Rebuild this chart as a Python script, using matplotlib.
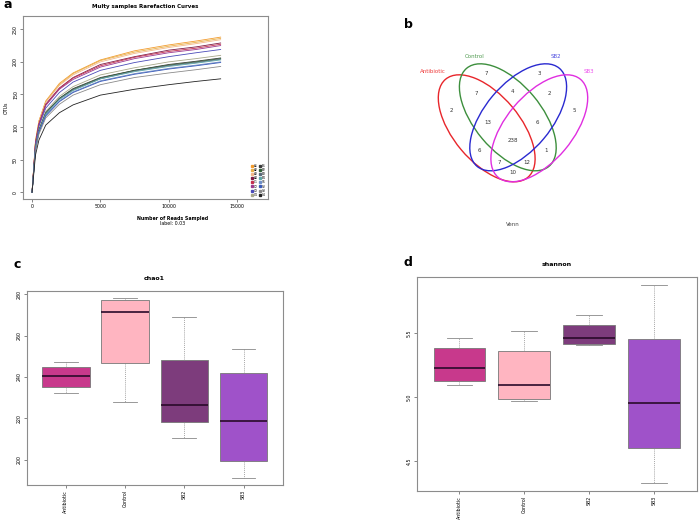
import matplotlib
matplotlib.use('Agg')
from matplotlib import pyplot as plt
from matplotlib.patches import Ellipse
from matplotlib.lines import Line2D

W, H = 699, 523

# ---- a: rarefaction curves ----
reads = [0, 250, 500, 1000, 2000, 3000, 5000, 7500, 10000, 12000, 13800]
otu_curves = [
    [0, 79, 109, 140, 167, 183, 203, 217, 226, 232, 238],
    [0, 78, 109, 139, 165, 182, 202, 215, 224, 230, 236],
    [0, 77, 108, 138, 164, 180, 200, 213, 222, 228, 234],
    [0, 76, 105, 135, 160, 176, 196, 208, 218, 223, 229],
    [0, 75, 104, 134, 159, 175, 194, 207, 216, 221, 227],
    [0, 74, 104, 133, 158, 173, 192, 205, 214, 219, 225],
    [0, 72, 101, 129, 153, 169, 187, 199, 208, 214, 219],
    [0, 69, 97, 124, 147, 162, 180, 191, 200, 205, 210],
    [0, 68, 95, 122, 144, 159, 176, 187, 196, 201, 206],
    [0, 68, 94, 121, 144, 158, 175, 187, 195, 200, 205],
    [0, 67, 94, 120, 143, 157, 174, 186, 194, 199, 204],
    [0, 67, 93, 120, 142, 156, 174, 185, 193, 198, 203],
    [0, 66, 92, 118, 140, 154, 171, 182, 190, 195, 200],
    [0, 66, 92, 117, 139, 153, 170, 181, 189, 194, 199],
    [0, 64, 89, 114, 135, 149, 165, 176, 183, 188, 193],
    [0, 57, 80, 103, 122, 134, 149, 158, 165, 170, 174],
]
sample_names = ['A1', 'A2', 'A3', 'A4', 'C1', 'C2', 'C3', 'C4',
                'B1', 'B2', 'B3', 'B4', 'S1', 'S2', 'S3', 'S4']
curve_colors = ['#f29b2e', '#e8b24a', '#f3b88a', '#7e1b45', '#c4304f', '#9b3a8f',
                '#4a4ab8', '#a8a88a', '#3a3a3a', '#2f5f35', '#5a6a7a', '#5fa8a8',
                '#7090c8', '#3a5ab8', '#8a8a8a', '#222222']

# ---- b: venn ----
set_names = ['Antibiotic', 'Control', 'SB2', 'SB3']
set_colors = ['#e8262b', '#3d8f3d', '#2a2ad0', '#e02ee0']
label_colors = ['#ee3a3a', '#4f9a4f', '#5050e0', '#ee50ee']
venn_regions = ['A', 'C', 'B', 'S', 'AC', 'CB', 'BS', 'ACB', 'CBS', 'ACBS',
                'AB', 'CS', 'ABS', 'ACS', 'AS']
venn_counts = [2, 7, 3, 5, 7, 4, 2, 13, 6, 238, 6, 1, 7, 12, 10]

# ---- c, d: boxplots ----
groups = ['Antibiotic', 'Control', 'SB2', 'SB3']
group_colors = ['#c8398c', '#ffb5c1', '#7d3c7c', '#9f52c9']
chao1_whislo = [232.1, 227.8, 210.4, 191.3]
chao1_q1 = [235.2, 246.9, 218.2, 199.4]
chao1_med = [240.5, 271.2, 226.7, 218.8]
chao1_q3 = [245.0, 277.3, 248.2, 241.9]
chao1_whishi = [247.2, 278.2, 269.1, 253.5]
shannon_whislo = [5.093, 4.967, 5.406, 4.325]
shannon_q1 = [5.124, 4.983, 5.416, 4.599]
shannon_med = [5.228, 5.093, 5.463, 4.954]
shannon_q3 = [5.383, 5.359, 5.570, 5.453]
shannon_whishi = [5.461, 5.523, 5.644, 5.879]

FS = 3.4
FRAME = '#8c8c8c'


def rect(x0, y0, x1, y1):
    return [x0 / W, 1 - y1 / H, (x1 - x0) / W, (y1 - y0) / H]


def style(ax):
    for s in ax.spines.values():
        s.set_color(FRAME)
        s.set_linewidth(0.8)
    ax.tick_params(length=2, width=0.5, color='#555555', labelsize=FS, pad=1.5)
    for t in ax.get_yticklabels():
        t.set_rotation(90)
        t.set_va('center')


fig = plt.figure(figsize=(W / 100, H / 100), dpi=100)

# panel a
ax = fig.add_axes(rect(23, 16, 268, 199))
for ys, c in zip(otu_curves, curve_colors):
    ax.plot(reads, ys, color=c, lw=0.6)
ax.set_xlim(-664, 17264)
ax.set_ylim(-10.4, 270.4)
ax.set_xticks([0, 5000, 10000, 15000])
ax.set_yticks([0, 50, 100, 150, 200, 250])
style(ax)
ax.set_ylabel('OTUs', fontsize=FS, labelpad=3)
ax.set_title('Multy samples Rarefaction Curves', fontsize=4, fontweight='bold', pad=6)
handles = [Line2D([], [], marker='s', ls='none', color=c, markersize=1.4) for c in curve_colors]
ax.legend(handles, sample_names, ncol=2, fontsize=2.2, frameon=False, loc='lower right',
          handlelength=0.6, handletextpad=0.3, columnspacing=0.6, labelspacing=0.05,
          borderpad=0.2)
fig.text(173 / W, 1 - 218.5 / H, 'Number of Reads Sampled', fontsize=FS, fontweight='bold',
         ha='center', va='center')
fig.text(173 / W, 1 - 223.5 / H, 'label: 0.03', fontsize=FS, ha='center', va='center')
fig.text(3 / W, 1 - 5 / H, 'a', fontsize=9, fontweight='bold', va='center')

# panel b
axv = fig.add_axes(rect(350, 0, 699, 250))
axv.set_xlim(350, 699)
axv.set_ylim(250, 0)
axv.axis('off')
ell_centers = [(486.7, 128.3), (507.8, 117.3), (518.2, 117.3), (539.3, 128.3)]
ell_angles = [50, 50, -50, -50]
for (cx, cy), ang, c in zip(ell_centers, ell_angles, set_colors):
    axv.add_patch(Ellipse((cx, cy), 128, 66.6, angle=ang, fill=False, ec=c, lw=1.0))
name_pos = [(432.7, 71.7), (474.3, 56.7), (556, 56.7), (589.3, 71.7)]
for (x, y), n, c in zip(name_pos, set_names, label_colors):
    axv.text(x, y, n, color=c, fontsize=4, ha='center', va='center')
count_pos = {'A': (451.7, 110), 'C': (486, 73.3), 'B': (539, 73.3), 'S': (574, 110),
             'AC': (476, 93.3), 'CB': (512.7, 91.7), 'BS': (549.3, 93.3),
             'ACB': (488.3, 122.3), 'CBS': (537.3, 122.3), 'ACBS': (512.7, 140.7),
             'AB': (479.3, 150), 'CS': (545.7, 150), 'ABS': (499, 162.3),
             'ACS': (526.7, 162.3), 'AS': (512.7, 172.7)}
for r, n in zip(venn_regions, venn_counts):
    x, y = count_pos[r]
    axv.text(x, y, str(n), fontsize=4, color='#333333', ha='center', va='center')
axv.text(512.7, 224, 'Venn', fontsize=4, color='#444444', ha='center', va='center')
fig.text(404 / W, 1 - 25 / H, 'b', fontsize=9, fontweight='bold', va='center')


def boxpanel(ax, whislo, q1, med, q3, whishi, title):
    stats = [dict(whislo=a, q1=b, med=m, q3=d, whishi=e)
             for a, b, m, d, e in zip(whislo, q1, med, q3, whishi)]
    bp = ax.bxp(stats, positions=[1, 2, 3, 4], widths=0.8, patch_artist=True,
                showfliers=False,
                boxprops=dict(edgecolor='#777777', linewidth=0.6),
                medianprops=dict(color='#2a0a2a', linewidth=1.2),
                whiskerprops=dict(color='#888888', linewidth=0.5, linestyle=(0, (1.5, 1.5))),
                capprops=dict(color='#888888', linewidth=0.6))
    for p, c in zip(bp['boxes'], group_colors):
        p.set_facecolor(c)
    for cap in bp['caps']:
        x0, x1 = cap.get_xdata()
        xm = (x0 + x1) / 2
        cap.set_xdata([xm - 0.2, xm + 0.2])
    lo, hi = min(whislo), max(whishi)
    pad = 0.04 * (hi - lo)
    ax.set_ylim(lo - pad, hi + pad)
    ax.set_xlim(0.34, 4.66)
    ax.set_xticks([1, 2, 3, 4])
    ax.set_xticklabels(groups, rotation=90)
    style(ax)
    ax.set_title(title, fontsize=4.5, fontweight='bold', pad=8)


axc = fig.add_axes(rect(26.7, 290.7, 282.7, 485))
boxpanel(axc, chao1_whislo, chao1_q1, chao1_med, chao1_q3, chao1_whishi, 'chao1')
axc.set_yticks([200, 220, 240, 260, 280])
for t in axc.get_yticklabels():
    t.set_rotation(90)
    t.set_va('center')
fig.text(13 / W, 1 - 265 / H, 'c', fontsize=9, fontweight='bold', va='center')

axd = fig.add_axes(rect(416.7, 277.3, 696.7, 491))
boxpanel(axd, shannon_whislo, shannon_q1, shannon_med, shannon_q3, shannon_whishi, 'shannon')
axd.set_yticks([4.5, 5.0, 5.5])
axd.set_yticklabels(['4.5', '5.0', '5.5'])
for t in axd.get_yticklabels():
    t.set_rotation(90)
    t.set_va('center')
fig.text(404 / W, 1 - 263 / H, 'd', fontsize=9, fontweight='bold', va='center')

fig.savefig('out.png', dpi=100)
